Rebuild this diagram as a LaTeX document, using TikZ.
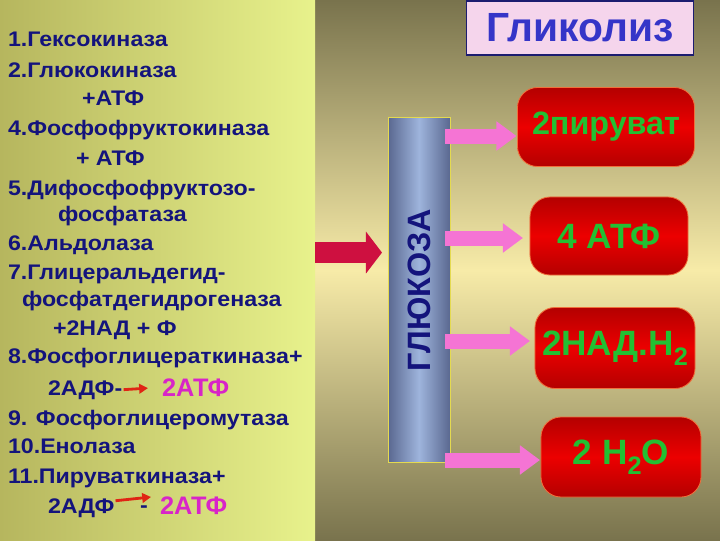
\documentclass[tikz,border=0pt]{standalone}
\usepackage{fontspec}
\setmainfont{Liberation Sans}
\newfontfamily\listfont{Liberation Sans}[FakeStretch=1.1]
\usetikzlibrary{positioning, arrows.meta, calc, backgrounds}

\definecolor{bgdark}{HTML}{79734D}
\definecolor{bgcream}{HTML}{F7EBA8}
\definecolor{panelleft}{HTML}{B6B65E}
\definecolor{panelright}{HTML}{E8F28C}
\definecolor{listblue}{HTML}{14147C}
\definecolor{atpmag}{HTML}{D824C8}
\definecolor{tinyred}{HTML}{E02414}
\definecolor{bigred}{HTML}{CE1040}
\definecolor{bardark}{HTML}{5A6890}
\definecolor{barlight}{HTML}{9EB4DC}
\definecolor{bartrim}{HTML}{E4DA50}
\definecolor{flowpink}{HTML}{F574D4}
\definecolor{boxred}{HTML}{EC0000}
\definecolor{boxdark}{HTML}{B40000}
\definecolor{boxtrim}{HTML}{F0703C}
\definecolor{boxgreen}{HTML}{22C032}
\definecolor{titlefill}{HTML}{F5D5EC}
\definecolor{titletrim}{HTML}{1C1C70}
\definecolor{titleblue}{HTML}{3535C8}

% lowered index digit inside the product boxes
\newcommand{\lowidx}[1]{\raisebox{-0.55ex}{\scalebox{0.72}{#1}}}

\begin{document}
\begin{tikzpicture}[
    x=0.025cm, y=-0.025cm,
    every node/.style={inner sep=0pt, outer sep=0pt},
    panel/.style={
        minimum width=7.875cm, minimum height=13.5cm,
        left color=panelleft, right color=panelright
    },
    enz/.style={
        anchor=base west, text=listblue,
        font=\listfont\bfseries\fontsize{15}{18}\selectfont
    },
    atpout/.style={
        anchor=base west, text=atpmag,
        font=\bfseries\fontsize{18}{21}\selectfont
    },
    bar/.style={
        draw=bartrim, line width=0.6pt,
        minimum width=1.55cm, minimum height=8.625cm,
        left color=bardark, right color=bardark, middle color=barlight,
        text=listblue, font=\bfseries\fontsize{23}{26}\selectfont
    },
    product/.style={
        draw=boxtrim, line width=0.6pt, rounded corners=0.5cm,
        top color=boxdark, bottom color=boxdark, middle color=boxred,
        text=boxgreen, font=\bfseries\fontsize{25}{28}\selectfont
    },
    titlebox/.style={
        draw=titletrim, line width=1.2pt, fill=titlefill,
        minimum width=5.675cm, minimum height=1.35cm,
        text=titleblue, font=\bfseries\fontsize{29}{32}\selectfont
    },
    bigflow/.style={draw=bigred, line width=0.525cm, -{Triangle[length=0.4cm, width=1.025cm]}},
    flow/.style={draw=flowpink, line width=0.375cm, -{Triangle[length=0.5cm, width=0.7cm]}},
    tinyflow/.style={draw=tinyred, line width=2pt, -{Triangle[length=0.22cm, width=0.24cm]}}
]

% --------------------------------------------------------------------------
% Slide background and the enzyme panel on the left.
% --------------------------------------------------------------------------
\useasboundingbox (0,0) rectangle (720,540);
\fill[top color=bgdark, bottom color=bgdark, middle color=bgcream] (0,0) rectangle (720,540);
\node[panel, anchor=north west] (panel) at (0,0) {};

% Enzymes of the pathway, one line each.
\node[enz] (e1) at (8,46) {1.Гексокиназа};
\node[enz] (e2) at (8,77) {2.Глюкокиназа};
\node[enz] (e2a) at (82,105) {+АТФ};
\node[enz] (e4) at (8,135) {4.Фосфофруктокиназа};
\node[enz] (e4a) at (76,165) {+ АТФ};
\node[enz] (e5) at (8,195) {5.Дифосфофруктозо-};
\node[enz] (e5a) at (58,221) {фосфатаза};
\node[enz] (e6) at (8,250) {6.Альдолаза};
\node[enz] (e7) at (8,279) {7.Глицеральдегид-};
\node[enz] (e7a) at (22,306) {фосфатдегидрогеназа};
\node[enz] (e7b) at (53,335) {+2НАД + Ф};
\node[enz] (e8) at (8,363) {8.Фосфоглицераткиназа+};
\node[enz] (adp1) at (48,395) {2АДФ-};
\node[atpout] (atp1) at (162,396) {2АТФ};
\node[enz] (e9) at (8,425) {9. Фосфоглицеромутаза};
\node[enz] (e10) at (8,453) {10.Енолаза};
\node[enz] (e11) at (8,483) {11.Пируваткиназа+};
\node[enz] (adp2) at (48,513) {2АДФ};
\node[enz] (dash2) at (140,512) {-};
\node[atpout] (atp2) at (160,514) {2АТФ};

% Small red reaction arrows.
\coordinate (tail2) at ($(adp2.east)+(1,-7)$);
\coordinate (tip2) at (151,497);
\draw[tinyflow, shorten <=1pt, shorten >=10pt] (adp1.east) -- (atp1.west);
\draw[tinyflow] (tail2) -- (tip2);

% --------------------------------------------------------------------------
% Glucose bar, title and products.
% --------------------------------------------------------------------------
\node[bar] (glc) at (419,290) {\rotatebox{90}{ГЛЮКОЗА}};
\node[titlebox] (title) at (580,28) {Гликолиз};

\node[product, minimum width=4.425cm, minimum height=1.975cm, font=\bfseries\fontsize{23}{26}\selectfont] (pyr) at (606,127) {2пируват};
\node[product, minimum width=3.95cm, minimum height=1.95cm] (atp) at (609,236) {4 АТФ};
\node[product, minimum width=4cm, minimum height=2.025cm] (nadh) at (615,348) {2НАД.Н\lowidx{2}};
\node[product, minimum width=4cm, minimum height=2cm] (water) at (621,457) {2 Н\lowidx{2}О};

% Panel feeds glucose.
\coordinate (bt) at ($(panel.east)+(0,-17.5)$);
\draw[bigflow, shorten >=0.15cm] (bt) -- (bt -| glc.west);

% Glucose to each product.
\coordinate (p1) at ($(pyr.west)+(-1,9)$);
\coordinate (p2) at ($(atp.west)+(-7,2)$);
\coordinate (p3) at ($(nadh.west)+(-5,-7)$);
\coordinate (p4) at ($(water.west)+(-1,3)$);
\draw[flow] ([xshift=-0.12cm]glc.east |- p1) -- (p1);
\draw[flow] ([xshift=-0.12cm]glc.east |- p2) -- (p2);
\draw[flow] ([xshift=-0.12cm]glc.east |- p3) -- (p3);
\draw[flow] ([xshift=-0.12cm]glc.east |- p4) -- (p4);

\end{tikzpicture}
\end{document}
